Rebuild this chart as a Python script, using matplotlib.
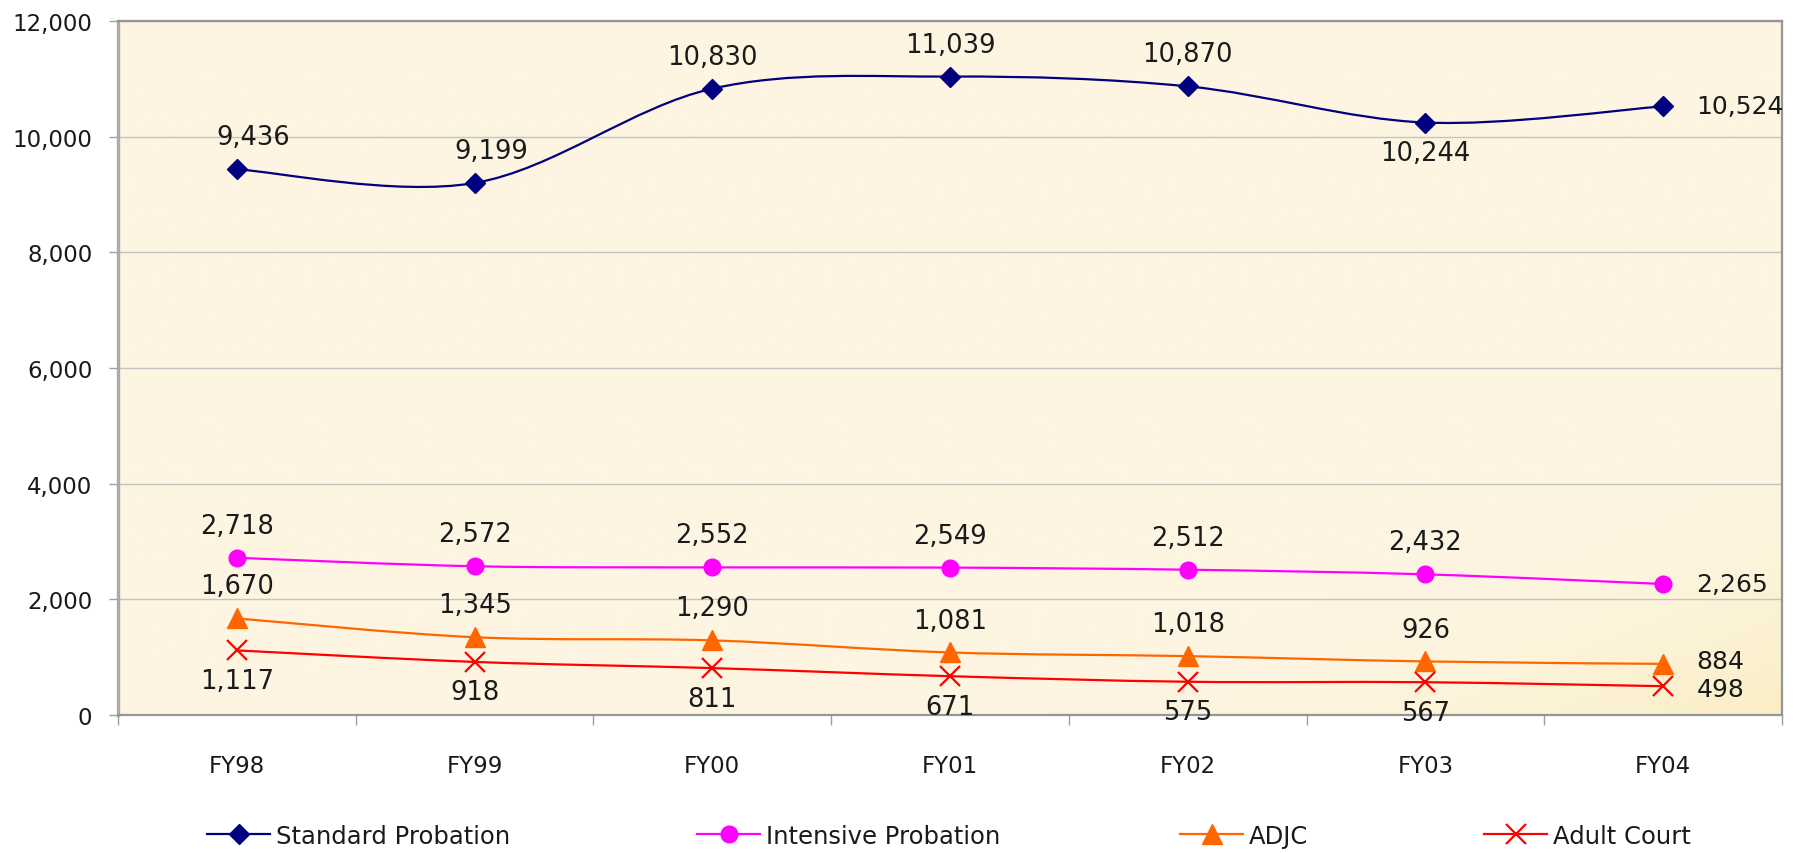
import numpy as np
import matplotlib
matplotlib.use('Agg')
import matplotlib.pyplot as plt
from matplotlib.path import Path
from matplotlib.patches import PathPatch
from matplotlib.lines import Line2D
from matplotlib.ticker import FuncFormatter, FixedLocator

plt.rcParams['font.family'] = ['DejaVu Sans']

years = ['FY98', 'FY99', 'FY00', 'FY01', 'FY02', 'FY03', 'FY04']
standard = [9436, 9199, 10830, 11039, 10870, 10244, 10524]
intensive = [2718, 2572, 2552, 2549, 2512, 2432, 2265]
adjc = [1670, 1345, 1290, 1081, 1018, 926, 884]
adult = [1117, 918, 811, 671, 575, 567, 498]


def smooth_path(xs, ys):
    # Bezier segments with Catmull-Rom style control points (tension 1/6)
    pts = np.column_stack([xs, ys]).astype(float)
    n = len(pts)
    verts = [pts[0]]
    codes = [Path.MOVETO]
    for i in range(n - 1):
        p0 = pts[max(i - 1, 0)]
        p1 = pts[i]
        p2 = pts[i + 1]
        p3 = pts[min(i + 2, n - 1)]
        c1 = p1 + (p2 - p0) / 6.0
        c2 = p2 - (p3 - p1) / 6.0
        verts += [c1, c2, p2]
        codes += [Path.CURVE4] * 3
    return Path(verts, codes)


fig = plt.figure(figsize=(17.97, 8.54), dpi=100)
ax = fig.add_axes([118 / 1797, 1 - 716 / 854, (1782 - 118) / 1797, (716 - 22) / 854])

# cream background, warming up only in the lower right corner
h, w = 200, 400
yy, xx = np.mgrid[0:1:h * 1j, 0:1:w * 1j]
t = np.clip(((xx * 0.5 + yy * 0.5) - 0.78) / 0.22, 0, 1) ** 2
base = np.array([253, 245, 225]) / 255.0
warm = np.array([250, 238, 196]) / 255.0
grad = base[None, None, :] * (1 - t[..., None]) + warm[None, None, :] * t[..., None]
ax.imshow(grad, extent=[0, 1, 0, 1], transform=ax.transAxes, aspect='auto',
          origin='upper', zorder=0, interpolation='bilinear')

x = np.arange(len(years))
series = [
    ('Standard Probation', standard, '#000080', 'D', 10, 'above'),
    ('Intensive Probation', intensive, '#FF00FF', 'o', 12, 'above'),
    ('ADJC', adjc, '#FF6600', '^', 14, 'above'),
    ('Adult Court', adult, '#FF0000', 'x', 14, 'below'),
]

handles = []
for name, vals, color, marker, ms, pos in series:
    ax.add_patch(PathPatch(smooth_path(x, vals), fill=False, edgecolor=color,
                           lw=1.6, zorder=3))
    mew = 1.6 if marker == 'x' else 1
    ax.plot(x, vals, linestyle='none', marker=marker, ms=ms, color=color,
            mec=color, mew=mew, zorder=4)
    handles.append(Line2D([], [], color=color, lw=1.6, marker=marker, ms=ms,
                          mec=color, mew=mew, label=name))
    for i, v in enumerate(vals):
        txt = '{:,}'.format(v)
        if i == len(vals) - 1:
            # last point is labelled to the right; nudge the two close ones apart
            dy = {'ADJC': 2, 'Adult Court': -2}.get(name, 0)
            ax.annotate(txt, (x[i], v), xytext=(24, dy), textcoords='offset points',
                        ha='left', va='center', fontsize=18, color='#1a1a1a', zorder=5)
            continue
        side = pos
        if name == 'Standard Probation' and i == 5:
            side = 'below'
        dy = 23 if side == 'above' else -22
        dx = 0
        if name == 'Standard Probation' and i in (0, 1):
            dx = 12
        ax.annotate(txt, (x[i], v), xytext=(dx, dy), textcoords='offset points',
                    ha='center', va='center', fontsize=18.5, color='#1a1a1a', zorder=5)

ax.set_xlim(-0.5, len(years) - 0.5)
ax.set_ylim(0, 12000)
ax.set_yticks(np.arange(0, 12001, 2000))
ax.yaxis.set_major_formatter(FuncFormatter(lambda v, p: '{:,}'.format(int(v))))
ax.grid(axis='y', color='#c4c4c4', lw=1, zorder=1)
ax.set_axisbelow(True)

# category boundaries get the tick marks, labels sit at the centres
ax.xaxis.set_major_locator(FixedLocator(np.arange(-0.5, len(years), 1.0)))
ax.xaxis.set_major_formatter(FuncFormatter(lambda v, p: ''))
ax.xaxis.set_minor_locator(FixedLocator(x))
ax.set_xticklabels(years, minor=True)
ax.tick_params(axis='x', which='major', length=7, width=1, color='#a0a0a0', direction='out')
ax.tick_params(axis='x', which='minor', length=0, pad=28, labelsize=16.5, labelcolor='#1a1a1a')
ax.tick_params(axis='y', length=6.5, width=1, color='#a0a0a0', pad=12,
               labelsize=16.5, labelcolor='#1a1a1a')

for side in ['top', 'right', 'bottom', 'left']:
    ax.spines[side].set_color('#959595')
    ax.spines[side].set_linewidth(1.6)
ax.spines['left'].set_color('#aaaaaa')
ax.spines['left'].set_linewidth(2.4)

# one legend entry per slot along the bottom
legend_left = [207, 697, 1180, 1484]
for hdl, left in zip(handles, legend_left):
    fig.legend(handles=[hdl], loc='center left', bbox_to_anchor=(left / 1797, 1 - 837 / 854),
               frameon=False, fontsize=17.5, handlelength=2.6, handletextpad=0.25,
               borderpad=0, borderaxespad=0, labelcolor='#1a1a1a')

fig.savefig('out.png', dpi=100, facecolor='white')
